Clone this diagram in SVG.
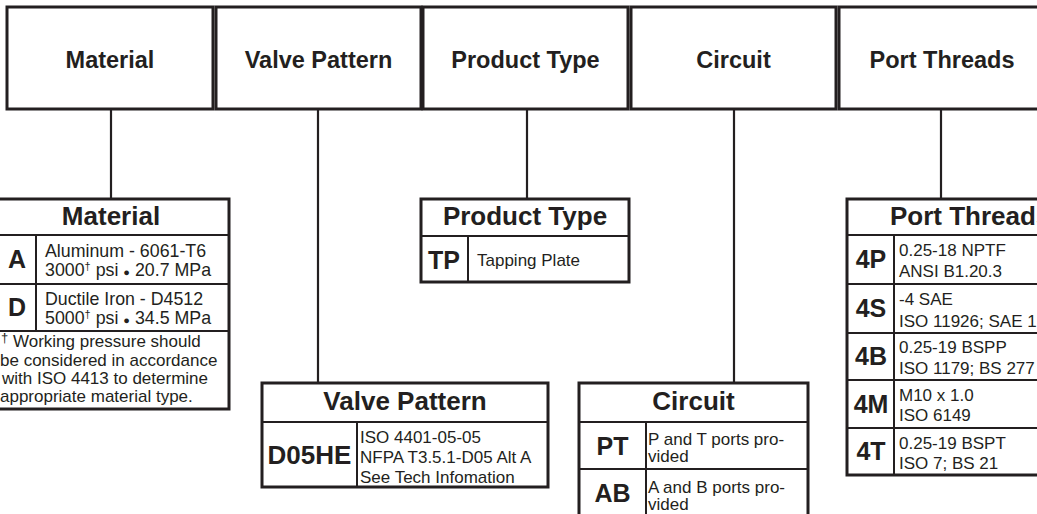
<svg xmlns="http://www.w3.org/2000/svg" width="1037" height="514" viewBox="0 0 1037 514">
<style>
.box{fill:#fff;stroke:#231f20;stroke-width:3}
.ln{stroke:#231f20;stroke-width:2;fill:none}
.con{stroke:#231f20;stroke-width:2.2;fill:none}
.top{font-family:"Liberation Sans",Arial,sans-serif;font-weight:bold;font-size:23.5px;fill:#231f20;text-anchor:middle}
.hd{font-family:"Liberation Sans",Arial,sans-serif;font-weight:bold;font-size:26px;fill:#231f20;text-anchor:middle}
.cd{font-family:"Liberation Sans",Arial,sans-serif;font-weight:bold;font-size:25px;fill:#231f20;text-anchor:middle}
.tx{font-family:"Liberation Sans",Arial,sans-serif;font-size:17px;fill:#231f20}
.sup{font-size:11px}
.bul{font-size:11px}
</style>
<rect width="1037" height="514" fill="#fff"/>
<g id="connectors">
<line class="con" x1="111" y1="109" x2="111" y2="199"/>
<line class="con" x1="318" y1="109" x2="318" y2="383"/>
<line class="con" x1="527" y1="109" x2="527" y2="199"/>
<line class="con" x1="734" y1="109" x2="734" y2="383"/>
<line class="con" x1="941" y1="109" x2="941" y2="199"/>
</g>
<g id="top-material"><rect class="box" x="7" y="7" width="206" height="102"/><text class="top" x="110" y="68">Material</text></g>
<g id="top-valve"><rect class="box" x="216" y="7" width="205" height="102"/><text class="top" x="318.5" y="68">Valve Pattern</text></g>
<g id="top-product"><rect class="box" x="423" y="7" width="205" height="102"/><text class="top" x="525.5" y="68">Product Type</text></g>
<g id="top-circuit"><rect class="box" x="631" y="7" width="205" height="102"/><text class="top" x="733.5" y="68">Circuit</text></g>
<g id="top-port"><rect class="box" x="839" y="7" width="210" height="102"/><text class="top" x="942" y="68">Port Threads</text></g>

<g id="material-table">
<rect class="box" x="-7" y="199" width="236" height="210"/>
<line class="ln" x1="-7" y1="235" x2="229" y2="235"/>
<line class="ln" x1="-7" y1="284" x2="229" y2="284"/>
<line class="ln" x1="-7" y1="331" x2="229" y2="331"/>
<line class="ln" x1="36" y1="235" x2="36" y2="331"/>
<text class="hd" x="111" y="225">Material</text>
<text class="cd" x="17" y="268">A</text>
<text class="cd" x="17" y="316">D</text>
<text class="tx" x="45" y="257" style="font-size:17.8px">Aluminum - 6061-T6</text>
<text class="tx" x="45" y="276" style="font-size:17.8px">3000<tspan class="sup" dy="-6">†</tspan><tspan dy="6"> psi </tspan><tspan class="bul">●</tspan> 20.7 MPa</text>
<text class="tx" x="45" y="305" style="font-size:17.8px">Ductile Iron - D4512</text>
<text class="tx" x="45" y="324" style="font-size:17.8px">5000<tspan class="sup" dy="-6">†</tspan><tspan dy="6"> psi </tspan><tspan class="bul">●</tspan> 34.5 MPa</text>
<text class="tx" x="1" y="347"><tspan class="sup" style="font-size:13px" dy="-5">†</tspan><tspan dy="5"> Working pressure should</tspan></text>
<text class="tx" x="0" y="366">be considered in accordance</text>
<text class="tx" x="2" y="384">with ISO 4413 to determine</text>
<text class="tx" x="0" y="402">appropriate material type.</text>
</g>

<g id="product-table">
<rect class="box" x="421" y="199" width="208" height="83"/>
<line class="ln" x1="421" y1="236" x2="629" y2="236"/>
<line class="ln" x1="468" y1="236" x2="468" y2="282"/>
<text class="hd" x="525" y="225">Product Type</text>
<text class="cd" x="444" y="269">TP</text>
<text class="tx" x="477" y="266">Tapping Plate</text>
</g>

<g id="valve-table">
<rect class="box" x="262" y="383" width="286" height="104"/>
<line class="ln" x1="262" y1="422" x2="548" y2="422"/>
<line class="ln" x1="357" y1="422" x2="357" y2="487"/>
<text class="hd" x="405" y="410">Valve Pattern</text>
<text class="cd" x="309.5" y="464" style="font-size:26px">D05HE</text>
<text class="tx" x="360" y="443">ISO 4401-05-05</text>
<text class="tx" x="360" y="463">NFPA T3.5.1-D05 Alt A</text>
<text class="tx" x="360" y="483">See Tech Infomation</text>
</g>

<g id="circuit-table">
<rect class="box" x="579" y="383" width="229" height="145"/>
<line class="ln" x1="579" y1="422" x2="808" y2="422"/>
<line class="ln" x1="579" y1="469" x2="808" y2="469"/>
<line class="ln" x1="646" y1="422" x2="646" y2="528"/>
<text class="hd" x="693.5" y="410">Circuit</text>
<text class="cd" x="612.5" y="455">PT</text>
<text class="cd" x="612.5" y="502">AB</text>
<text class="tx" x="648" y="445">P and T ports pro-</text>
<text class="tx" x="648" y="462">vided</text>
<text class="tx" x="648" y="493">A and B ports pro-</text>
<text class="tx" x="648" y="510">vided</text>
</g>

<g id="port-table">
<rect class="box" x="847" y="199" width="260" height="276"/>
<line class="ln" x1="847" y1="235" x2="1107" y2="235"/>
<line class="ln" x1="847" y1="284" x2="1107" y2="284"/>
<line class="ln" x1="847" y1="333" x2="1107" y2="333"/>
<line class="ln" x1="847" y1="380" x2="1107" y2="380"/>
<line class="ln" x1="847" y1="428" x2="1107" y2="428"/>
<line class="ln" x1="894" y1="235" x2="894" y2="475"/>
<text class="hd" x="890" y="225" style="text-anchor:start">Port Threads</text>
<text class="cd" x="871" y="268">4P</text>
<text class="cd" x="871" y="317">4S</text>
<text class="cd" x="871" y="365">4B</text>
<text class="cd" x="871" y="413">4M</text>
<text class="cd" x="871" y="460">4T</text>
<text class="tx" x="899" y="256">0.25-18 NPTF</text>
<text class="tx" x="899" y="277">ANSI B1.20.3</text>
<text class="tx" x="899" y="305">-4 SAE</text>
<text class="tx" x="899" y="327">ISO 11926; SAE 1</text>
<text class="tx" x="899" y="353">0.25-19 BSPP</text>
<text class="tx" x="899" y="374">ISO 1179; BS 277</text>
<text class="tx" x="899" y="401">M10 x 1.0</text>
<text class="tx" x="899" y="421">ISO 6149</text>
<text class="tx" x="899" y="449">0.25-19 BSPT</text>
<text class="tx" x="899" y="469">ISO 7; BS 21</text>
</g>
</svg>
